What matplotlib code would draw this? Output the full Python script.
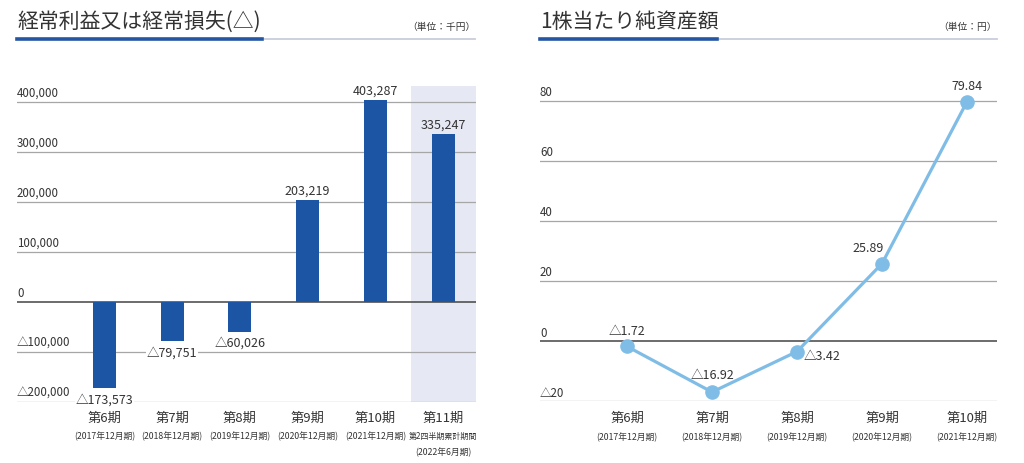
import matplotlib
matplotlib.use('Agg')
import matplotlib.pyplot as plt
from matplotlib.lines import Line2D
from matplotlib.transforms import offset_copy

plt.rcParams['font.family'] = ['Noto Sans CJK JP', 'DejaVu Sans']

# データ
periods = ['第6期', '第7期', '第8期', '第9期', '第10期', '第11期']
sub_labels = ['(2017年12月期)', '(2018年12月期)', '(2019年12月期)', '(2020年12月期)', '(2021年12月期)', '第2四半期累計期間']
sub_labels2 = ['', '', '', '', '', '(2022年6月期)']
profit = [-173573, -79751, -60026, 203219, 403287, 335247]
profit_ticks = [-200000, -100000, 0, 100000, 200000, 300000, 400000]

bps_periods = periods[:5]
bps_sub = sub_labels[:5]
bps = [-1.72, -16.92, -3.42, 25.89, 79.84]
bps_ticks = [-20, 0, 20, 40, 60, 80]

BLUE = '#1c55a4'
LIGHT = '#80bde6'
SHADE = '#e6e9f3'
GRID = '#a6a6a6'
TXT = '#333333'

W, H = 1024, 464
fig = plt.figure(figsize=(W / 100, H / 100), dpi=100)


def px_axes(x0, x1, ytop, ybot):
    return fig.add_axes([x0 / W, 1 - ybot / H, (x1 - x0) / W, (ybot - ytop) / H])


def fmt(v, dec=0):
    s = f'{abs(v):,.{dec}f}'
    return ('△' if v < 0 else '') + s


def header(x0, x1, xsplit, title, unit):
    fig.text(x0 / W, 1 - 22 / H, title, fontsize=15, color=TXT, va='center', ha='left')
    fig.text(x1 / W, 1 - 27 / H, unit, fontsize=7, color=TXT, va='center', ha='right')
    fig.add_artist(Line2D([xsplit / W, x1 / W], [1 - 40 / H] * 2, color='#c9cedb', lw=1.3))
    fig.add_artist(Line2D([x0 / W, xsplit / W], [1 - 40 / H] * 2, color='#2456a4', lw=2.6))


def style(ax):
    for s in ax.spines.values():
        s.set_visible(False)
    ax.set_xticks([])
    ax.set_yticks([])
    ax.patch.set_alpha(0)


def ytick_text(ax, ticks, labels):
    tr = offset_copy(ax.get_yaxis_transform(), fig=fig, x=0, y=2, units='points')
    for t, lab in zip(ticks, labels):
        ax.axhline(t, color='#444444' if t == 0 else GRID, lw=1.1 if t == 0 else 0.9, zorder=1)
        ax.text(0, t, lab, transform=tr, fontsize=8.3, color=TXT, ha='left', va='bottom')


def xcat_text(ax, names, subs, subs2):
    tr = ax.get_xaxis_transform()
    for i, (n, s, s2) in enumerate(zip(names, subs, subs2)):
        ax.text(i, -0.05, n, transform=tr, fontsize=9.5, color=TXT, ha='center', va='center')
        ax.text(i, -0.108, s, transform=tr, fontsize=5.8 if s2 else 6.3, color=TXT,
                ha='center', va='center')
        if s2:
            ax.text(i, -0.157, s2, transform=tr, fontsize=6.3, color=TXT, ha='center', va='center')


# 左: 経常利益
header(17, 475, 262, '経常利益又は経常損失(△)', '（単位：千円）')
ax1 = px_axes(17, 476, 87, 402.5)
style(ax1)
ax1.set_xlim(-1.292, 5.487)
ax1.set_ylim(-200000, 431000)
ax1.axvspan(4.52, 5.487, color=SHADE, zorder=0, lw=0)
ytick_text(ax1, profit_ticks, [fmt(t) for t in profit_ticks])
xs = list(range(len(profit)))
ax1.bar(xs, profit, width=0.34, color=BLUE, zorder=2)
for x, v in zip(xs, profit):
    if v >= 0:
        ax1.annotate(fmt(v), (x, v), xytext=(0, 2), textcoords='offset points',
                     ha='center', va='bottom', fontsize=9, color=TXT)
    else:
        ax1.annotate(fmt(v), (x, v), xytext=(0, -3), textcoords='offset points',
                     ha='center', va='top', fontsize=9, color=TXT,
                     bbox=dict(facecolor='white', edgecolor='none', pad=0.5))
xcat_text(ax1, periods, sub_labels, sub_labels2)

# 右: 1株当たり純資産額
header(540, 997, 717, '1株当たり純資産額', '（単位：円）')
ax2 = px_axes(540, 997, 80, 402.3)
style(ax2)
ax2.set_xlim(-1.024, 4.353)
ax2.set_ylim(-20, 87.4)
ytick_text(ax2, bps_ticks, [fmt(t) for t in bps_ticks])
xs2 = list(range(len(bps)))
ax2.plot(xs2, bps, color=LIGHT, lw=2.3, marker='o', markersize=9.5, zorder=3)
offsets = [(0, 7, 'center', 'bottom'), (0, 8, 'center', 'bottom'), (5, -3, 'left', 'center'),
           (1, 7, 'right', 'bottom'), (0, 7, 'center', 'bottom')]
for x, v, (dx, dy, ha, va) in zip(xs2, bps, offsets):
    ax2.annotate(fmt(v, 2), (x, v), xytext=(dx, dy), textcoords='offset points',
                 ha=ha, va=va, fontsize=9, color=TXT)
xcat_text(ax2, bps_periods, bps_sub, ['', '', '', '', ''])

fig.savefig('out.png', dpi=100, facecolor='white')
